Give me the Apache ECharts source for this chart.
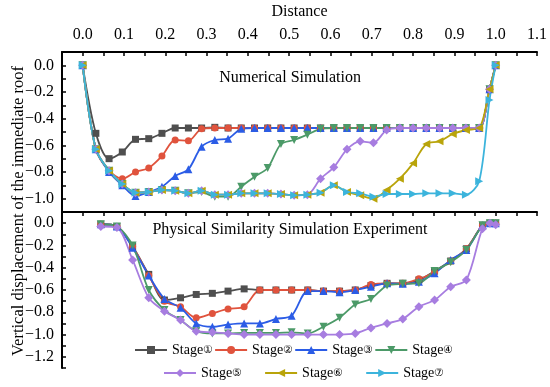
<!DOCTYPE html>
<html>
<head>
<meta charset="utf-8">
<script src="https://cdn.jsdelivr.net/npm/echarts@6.0.0/dist/echarts.min.js"></script>
<style>html,body{margin:0;padding:0;background:#fff}#c{width:550px;height:387px}</style>
</head>
<body>
<div id="c"></div>
<script>
// ---------- data ----------
const stageNames = ['Stage\u2460','Stage\u2461','Stage\u2462','Stage\u2463','Stage\u2464','Stage\u2465','Stage\u2466'];
const stageColors = ['#4f4f4f','#e0533d','#2b5ce6','#4c9a68','#a77de0','#b9a40a','#3cb4dc'];
const stageSymbols = ['rect','circle','triangle','triangle','diamond','triangle','triangle'];
const stageRotate = [0,0,0,180,0,90,-90];
const stageSizes = [7,7,8,8,9,8,8];

// Numerical simulation (top panel)
const topX = [0,0.032,0.064,0.096,0.128,0.16,0.192,0.224,0.256,0.288,0.32,0.352,0.384,0.416,0.448,0.48,0.512,0.544,0.576,0.608,0.64,0.672,0.704,0.736,0.768,0.8,0.832,0.864,0.896,0.928,0.96,0.985,1.0];
const topStage1 = [0,-0.51,-0.70,-0.65,-0.555,-0.55,-0.51,-0.47,-0.47,-0.47,-0.465,-0.47,-0.47,-0.47,-0.47,-0.47,-0.47,-0.47,-0.47,-0.47,-0.47,-0.47,-0.47,-0.47,-0.47,-0.47,-0.47,-0.47,-0.47,-0.47,-0.47,-0.18,0];
const topStage2 = [0,-0.63,-0.79,-0.85,-0.80,-0.77,-0.68,-0.56,-0.565,-0.476,-0.47,-0.47,-0.47,-0.47,-0.47,-0.47,-0.47,-0.47,-0.47,-0.47,-0.47,-0.47,-0.47,-0.47,-0.47,-0.47,-0.47,-0.47,-0.47,-0.47,-0.47,-0.18,0];
const topStage3 = [0,-0.63,-0.80,-0.90,-0.98,-0.95,-0.91,-0.83,-0.78,-0.61,-0.56,-0.55,-0.476,-0.47,-0.47,-0.47,-0.47,-0.47,-0.47,-0.47,-0.47,-0.47,-0.47,-0.47,-0.47,-0.47,-0.47,-0.47,-0.47,-0.47,-0.47,-0.18,0];
const topStage4 = [0,-0.63,-0.79,-0.89,-0.955,-0.95,-0.935,-0.94,-0.96,-0.95,-0.985,-0.985,-0.91,-0.835,-0.77,-0.59,-0.56,-0.52,-0.476,-0.47,-0.47,-0.47,-0.47,-0.47,-0.47,-0.47,-0.47,-0.47,-0.47,-0.47,-0.47,-0.18,0];
const topStage5 = [0,-0.63,-0.79,-0.89,-0.955,-0.95,-0.935,-0.94,-0.96,-0.94,-0.97,-0.97,-0.96,-0.96,-0.96,-0.965,-0.975,-0.97,-0.85,-0.765,-0.63,-0.57,-0.58,-0.485,-0.47,-0.47,-0.47,-0.47,-0.47,-0.47,-0.47,-0.18,0];
const topStage6 = [0,-0.63,-0.79,-0.89,-0.955,-0.95,-0.935,-0.94,-0.96,-0.94,-0.97,-0.97,-0.96,-0.96,-0.96,-0.965,-0.975,-0.97,-0.955,-0.90,-0.95,-0.975,-1.0,-0.935,-0.85,-0.735,-0.59,-0.57,-0.515,-0.485,-0.47,-0.18,0];
const topStage7 = [0,-0.63,-0.79,-0.89,-0.955,-0.95,-0.935,-0.94,-0.96,-0.94,-0.97,-0.97,-0.96,-0.96,-0.96,-0.965,-0.975,-0.97,-0.955,-0.90,-0.95,-0.96,-0.985,-0.965,-0.965,-0.965,-0.96,-0.96,-0.96,-0.97,-0.87,-0.26,0];

// Physical similarity simulation experiment (bottom panel)
const botX = [0.044,0.083,0.121,0.160,0.198,0.237,0.275,0.314,0.352,0.391,0.429,0.468,0.506,0.545,0.583,0.622,0.660,0.698,0.737,0.775,0.814,0.852,0.891,0.929,0.968,0.986,1.0];
const botStage1 = [-0.01,-0.03,-0.21,-0.46,-0.69,-0.67,-0.64,-0.63,-0.61,-0.59,-0.60,-0.60,-0.60,-0.60,-0.61,-0.61,-0.60,-0.56,-0.54,-0.54,-0.51,-0.43,-0.34,-0.23,-0.02,0,0];
const botStage2 = [-0.01,-0.03,-0.21,-0.47,-0.70,-0.75,-0.85,-0.81,-0.77,-0.75,-0.60,-0.60,-0.60,-0.60,-0.61,-0.61,-0.60,-0.55,-0.54,-0.54,-0.50,-0.44,-0.34,-0.23,-0.02,0,0];
const botStage3 = [-0.01,-0.03,-0.22,-0.47,-0.68,-0.76,-0.90,-0.93,-0.91,-0.90,-0.90,-0.86,-0.83,-0.61,-0.61,-0.62,-0.60,-0.57,-0.54,-0.545,-0.525,-0.45,-0.33,-0.24,-0.02,0,0];
const botStage4 = [-0.01,-0.03,-0.20,-0.60,-0.78,-0.87,-0.97,-0.99,-0.99,-0.985,-0.985,-0.985,-0.98,-0.99,-0.93,-0.85,-0.73,-0.68,-0.56,-0.545,-0.54,-0.43,-0.35,-0.24,-0.02,0,0];
const botStage5 = [-0.03,-0.04,-0.33,-0.67,-0.79,-0.87,-0.97,-0.98,-0.99,-1.0,-1.0,-1.0,-1.0,-1.0,-1.0,-1.0,-0.99,-0.94,-0.90,-0.86,-0.75,-0.69,-0.57,-0.51,-0.05,0,-0.015];

const topPanelTitle = 'Numerical Simulation';
const botPanelTitle = 'Physical Similarity Simulation Experiment';
const xName = 'Distance';
const yName = 'Vertical displacement of the immediate roof';

// ---------- chart ----------
const FONT = '"Liberation Serif","Times New Roman",serif';
const pair = (xs, ys) => ys.map((v, i) => [xs[i], v]);
const topSets = [topStage1, topStage2, topStage3, topStage4, topStage5, topStage6, topStage7];
const botSets = [botStage1, botStage2, botStage3, botStage4, botStage5];

function mkSeries(i, data, panel) {
  return {
    type: 'line', name: stageNames[i], xAxisIndex: panel, yAxisIndex: panel,
    data: data, smooth: 0.3,
    symbol: stageSymbols[i], symbolRotate: stageRotate[i], symbolSize: stageSizes[i],
    lineStyle: { width: 1.8, color: stageColors[i] },
    itemStyle: { color: stageColors[i] },
    emphasis: { disabled: true }
  };
}
const series = [];
topSets.forEach((s, i) => series.push(mkSeries(i, pair(topX, s), 0)));
botSets.forEach((s, i) => series.push(mkSeries(i, pair(botX, s), 1)));

const minus = s => s.replace('-', '\u2212');
const xLabel = v => { const r = Math.round(v * 100); return (r % 10 === 0 && r >= 0) ? (r / 100).toFixed(1) : ''; };
const yLabelFn = (lo, hi) => v => { const r = Math.round(v * 10); return (r % 2 === 0 && v >= lo - 1e-9 && v <= hi + 1e-9) ? minus((r / 10).toFixed(1)) : ''; };

const axisLine = { show: true, onZero: false, lineStyle: { color: '#000', width: 2 } };
const axisTick = { show: true, inside: true, length: 4, lineStyle: { color: '#000', width: 1.5 } };
const lblStyle = { color: '#000', fontSize: 16, fontFamily: FONT };

const legendText = {
  color: '#000', fontSize: 14, fontFamily: FONT,
  rich: { n: { fontSize: 11, fontFamily: FONT, color: '#000', padding: [1, 0, 0, 0] } }
};
const legendFmt = name => name.slice(0, 5) + '{n|' + name.slice(5) + '}';

const option = {
  animation: false,
  backgroundColor: '#fff',
  grid: [
    { left: 62, width: 475, top: 52, height: 160 },
    { left: 62, width: 475, top: 212, height: 156 }
  ],
  xAxis: [
    { gridIndex: 0, type: 'value', position: 'top', min: -0.05, max: 1.1, interval: 0.05,
      axisLine, axisTick, splitLine: { show: false },
      axisLabel: Object.assign({ formatter: xLabel, margin: 9 }, lblStyle),
      name: xName, nameLocation: 'middle', nameGap: 32,
      nameTextStyle: { color: '#000', fontSize: 16, fontFamily: FONT } },
    { gridIndex: 1, type: 'value', position: 'top', min: -0.05, max: 1.1, interval: 0.05,
      axisLine, axisTick, splitLine: { show: false }, axisLabel: { show: false } }
  ],
  yAxis: [
    { gridIndex: 0, type: 'value', min: -1.1, max: 0.1, interval: 0.1,
      axisLine, axisTick, splitLine: { show: false },
      axisLabel: Object.assign({ formatter: yLabelFn(-1.0, 0), margin: 8 }, lblStyle) },
    { gridIndex: 1, type: 'value', min: -1.3, max: 0.1, interval: 0.1,
      axisLine, axisTick, splitLine: { show: false },
      axisLabel: Object.assign({ formatter: yLabelFn(-1.2, 0), margin: 8 }, lblStyle) }
  ],
  legend: [
    { data: stageNames.slice(0, 4), left: 134, top: 343, itemWidth: 32, itemHeight: 10, itemGap: 1, padding: 0,
      formatter: legendFmt, textStyle: legendText },
    { data: stageNames.slice(4), left: 163, top: 366, itemWidth: 32, itemHeight: 10, itemGap: 22, padding: 0,
      formatter: legendFmt, textStyle: legendText }
  ],
  graphic: [
    { type: 'text', x: 290, y: 78, silent: true,
      style: { text: topPanelTitle, fill: '#000', font: '16px ' + FONT, textAlign: 'center', textVerticalAlign: 'middle', align: 'center', verticalAlign: 'middle' } },
    { type: 'text', x: 290, y: 230, silent: true,
      style: { text: botPanelTitle, fill: '#000', font: '16px ' + FONT, textAlign: 'center', textVerticalAlign: 'middle', align: 'center', verticalAlign: 'middle' } },
    { type: 'text', x: 19, y: 211, rotation: Math.PI / 2, silent: true,
      style: { text: yName, fill: '#000', font: '16.5px ' + FONT, textAlign: 'center', textVerticalAlign: 'middle', align: 'center', verticalAlign: 'middle' } }
  ],
  series: series
};

const chart = echarts.init(document.getElementById('c'), null, { renderer: 'canvas' });
chart.setOption(option);
</script>
</body>
</html>
